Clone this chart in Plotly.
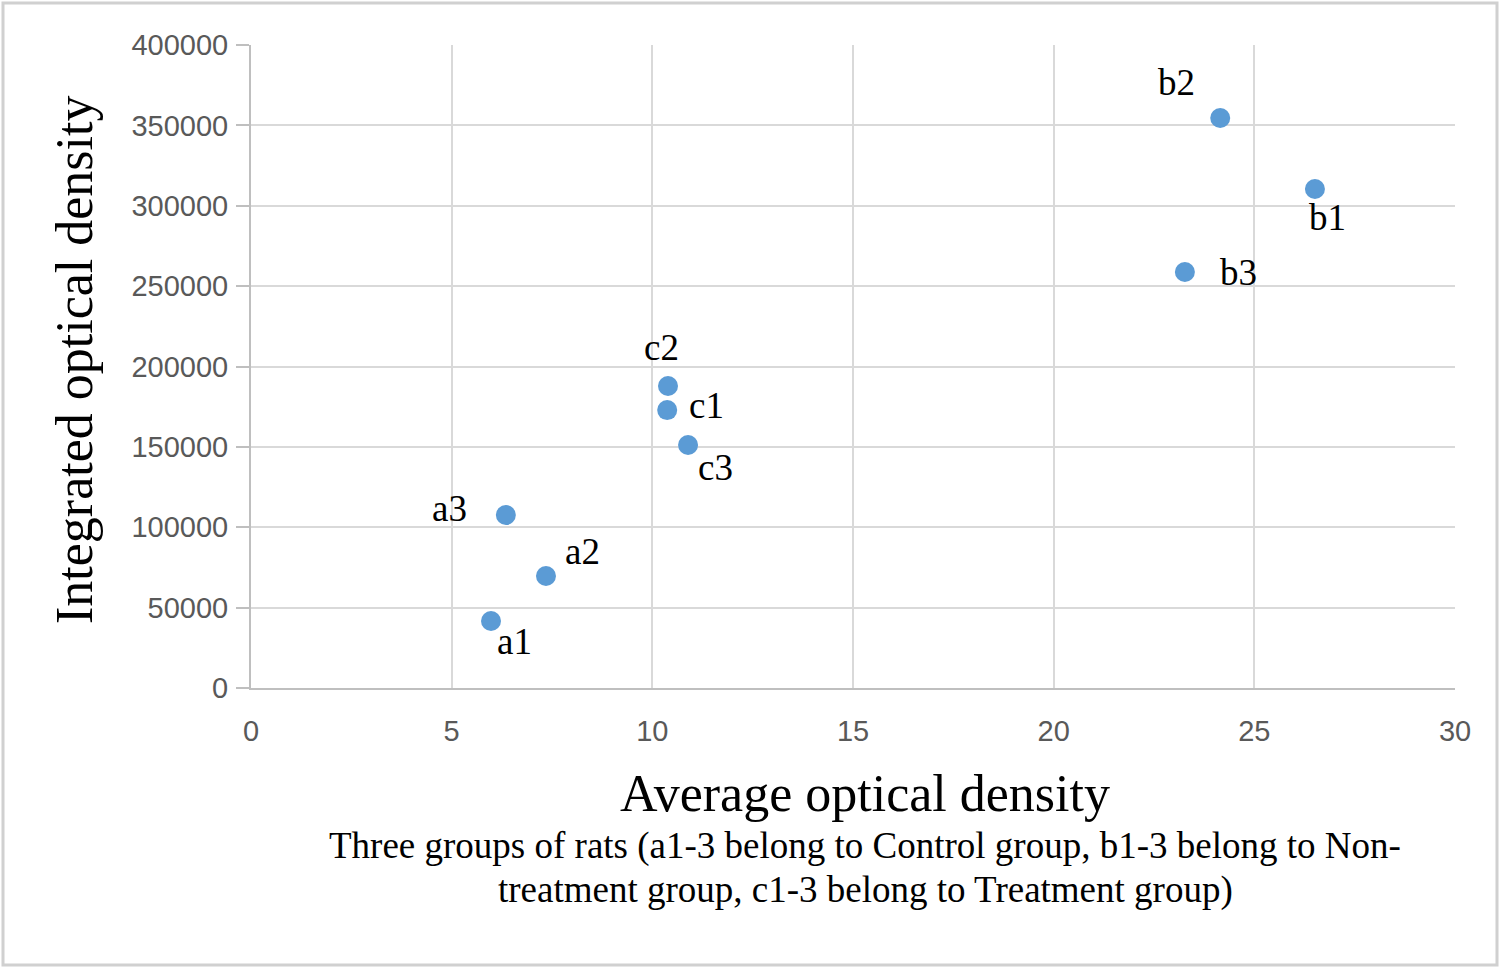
import plotly.graph_objects as go

labels = ["a1", "a2", "a3", "b1", "b2", "b3", "c1", "c2", "c3"]
avg_od = [5.98, 7.35, 6.35, 26.51, 24.15, 23.27, 10.37, 10.39, 10.89]
iod = [41700, 69700, 107600, 310400, 354600, 258800, 172900, 187900, 151200]

x_ticks = [0, 5, 10, 15, 20, 25, 30]
y_ticks = [0, 50000, 100000, 150000, 200000, 250000, 300000, 350000, 400000]

# label offsets in pixels (dx, dy up-positive)
label_offsets = {
    "a1": (23, -21), "a2": (37, 24), "a3": (-56, 7),
    "b1": (13, -28), "b2": (-44, 35), "b3": (54, -1),
    "c1": (39, 5), "c2": (-6, 38), "c3": (27, -23),
}

serif = "Liberation Serif, Times New Roman, serif"
sans = "Liberation Sans, Arial, sans-serif"

fig = go.Figure()
fig.add_trace(go.Scatter(
    x=avg_od, y=iod, mode="markers",
    marker=dict(size=20, color="#5b9bd5"),
    showlegend=False, hoverinfo="skip",
))

for lab, xv, yv in zip(labels, avg_od, iod):
    dx, dy = label_offsets[lab]
    fig.add_annotation(x=xv, y=yv, xref="x", yref="y", text=lab, showarrow=False,
                       xshift=dx, yshift=dy, font=dict(family=serif, size=37, color="black"))

L, R, T, B = 251, 46, 45, 281
W, H = 1501, 969
pw, ph = W - L - R, H - T - B

def px(xp):
    return (xp - L) / pw

def py(yp):
    return (H - B - yp) / ph

common = dict(xref="paper", yref="paper", showarrow=False, xanchor="center", yanchor="middle")
fig.add_annotation(x=px(865), y=py(793), text="Average optical density",
                   font=dict(family=serif, size=52, color="black"), **common)
fig.add_annotation(x=px(865), y=py(846),
                   text="Three groups of rats (a1-3 belong to Control group, b1-3 belong to Non-",
                   font=dict(family=serif, size=37, color="black"), **common)
fig.add_annotation(x=px(865), y=py(890),
                   text="treatment group, c1-3 belong to Treatment group)",
                   font=dict(family=serif, size=37, color="black"), **common)
fig.add_annotation(x=px(75), y=py(360), text="Integrated optical density", textangle=-90,
                   font=dict(family=serif, size=52, color="black"), **common)

fig.add_shape(type="rect", xref="paper", yref="paper",
              x0=px(3), x1=px(1497), y0=py(965), y1=py(3),
              line=dict(color="#d0d0d0", width=3), layer="below")

fig.update_xaxes(range=[0, 30], tickvals=x_ticks, ticktext=[str(v) for v in x_ticks],
                 showgrid=True, gridcolor="#d9d9d9", gridwidth=2,
                 showline=True, linecolor="#bfbfbf", linewidth=2, mirror=False,
                 zeroline=False, ticks="", ticklabelstandoff=16,
                 tickfont=dict(family=sans, size=29, color="#595959"))
fig.update_yaxes(range=[0, 400000], tickvals=y_ticks, ticktext=[str(v) for v in y_ticks],
                 showgrid=True, gridcolor="#d9d9d9", gridwidth=2,
                 showline=True, linecolor="#bfbfbf", linewidth=2,
                 zeroline=False, ticks="outside", ticklen=13, tickcolor="#bfbfbf", tickwidth=2,
                 ticklabelstandoff=2,
                 tickfont=dict(family=sans, size=29, color="#595959"))

fig.update_layout(
    width=W, height=H,
    margin=dict(l=L, r=R, t=T, b=B),
    plot_bgcolor="white", paper_bgcolor="white",
)
fig.write_html("out.html", config={"displayModeBar": False},
               post_script="document.body.style.margin='0';document.body.style.overflow='hidden';")
